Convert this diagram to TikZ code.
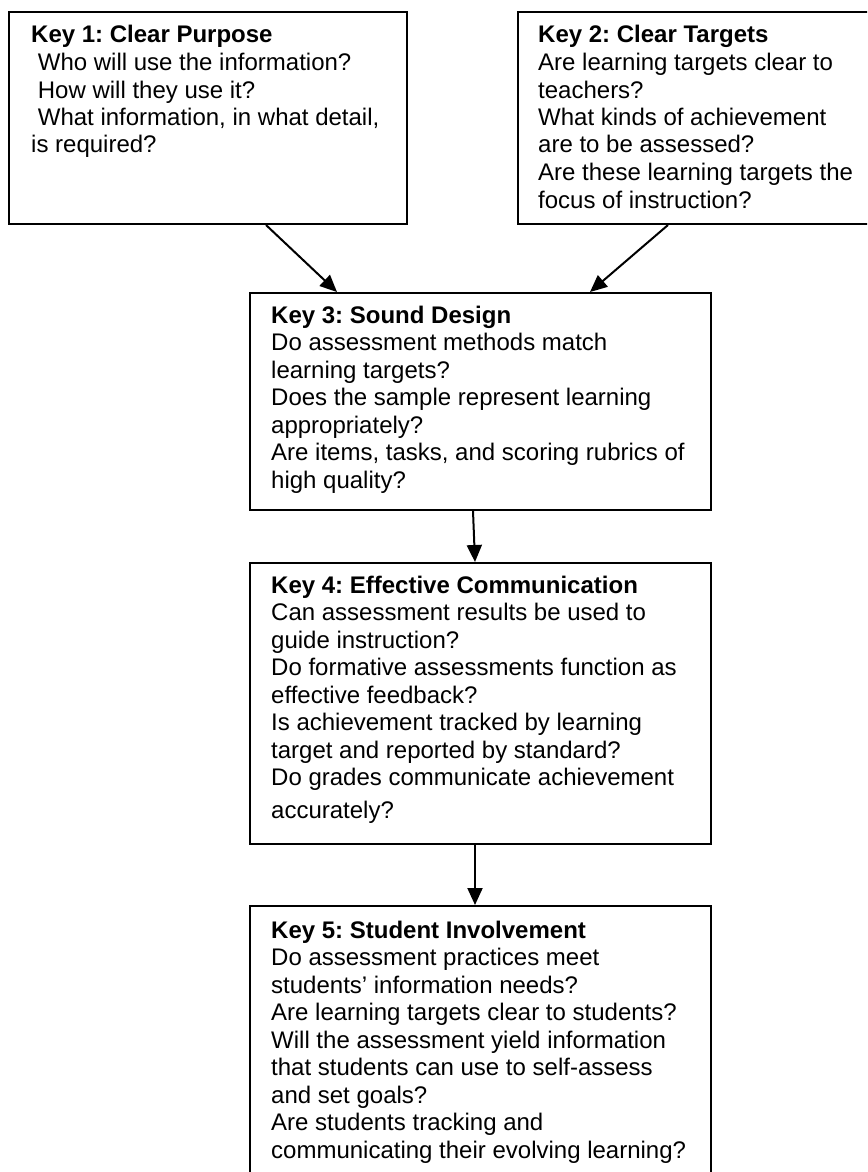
\documentclass[tikz,border=0pt]{standalone}
\usepackage{fontspec}
\setmainfont{Liberation Sans}
\usetikzlibrary{arrows.meta}
\frenchspacing

\tikzset{
  keybox/.style={draw=black, line width=2pt, fill=white, rectangle,
                 anchor=north west, inner sep=0pt},
  keytext/.style={anchor=base west, inner sep=0pt, text=black},
  flow/.style={draw=black, line width=2pt,
               -{Triangle[length=17pt,width=15pt]}},
}
\newcommand{\keylines}[1]{%
  \begin{minipage}[t]{520pt}\raggedright\frenchspacing
  \fontsize{24pt}{27.5pt}\selectfont #1\end{minipage}}

\begin{document}
\begin{tikzpicture}[x=1pt,y=1pt]
  \useasboundingbox (0,0) rectangle (867,-1172);
  \fill[white] (0,0) rectangle (867,-1172);
  \clip (0,0) rectangle (867,-1172);

  % the five keys
  \node[keybox, minimum width=398pt, minimum height=212pt] (k1) at (8,-11) {};
  \node[keybox, minimum width=360pt, minimum height=212pt] (k2) at (517,-11) {};
  \node[keybox, minimum width=461pt, minimum height=217pt] (k3) at (249,-292) {};
  \node[keybox, minimum width=461pt, minimum height=281pt] (k4) at (249,-562) {};
  \node[keybox, minimum width=461pt, minimum height=300pt] (k5) at (249,-905) {};

  % their texts
  \node[keytext] (t1) at ([xshift=23pt,yshift=-32pt]k1.north west) {\keylines{%
    \textbf{Key 1: Clear Purpose}\\
    \mbox{}\ Who will use the information?\\
    \mbox{}\ How will they use it?\\
    \mbox{}\ What information, in what detail,\\
    is required?}};
  \node[keytext] (t2) at ([xshift=21pt,yshift=-32pt]k2.north west) {\keylines{%
    \textbf{Key 2: Clear Targets}\\
    Are learning targets clear to\\
    teachers?\\
    What kinds of achievement\\
    are to be assessed?\\
    Are these learning targets the\\
    focus of instruction?}};
  \node[keytext] (t3) at ([xshift=22pt,yshift=-31pt]k3.north west) {\keylines{%
    \textbf{Key 3: Sound Design}\\
    Do assessment methods match\\
    learning targets?\\
    Does the sample represent learning\\
    appropriately?\\
    Are items, tasks, and scoring rubrics of\\
    high quality?}};
  \node[keytext] (t4) at ([xshift=22pt,yshift=-31pt]k4.north west) {\keylines{%
    \textbf{Key 4: Effective Communication}\\
    Can assessment results be used to\\
    guide instruction?\\
    Do formative assessments function as\\
    effective feedback?\\
    Is achievement tracked by learning\\
    target and reported by standard?\\
    Do grades communicate achievement\\[5.5pt]
    accurately?}};
  \node[keytext] (t5) at ([xshift=22pt,yshift=-33pt]k5.north west) {\keylines{%
    \textbf{Key 5: Student Involvement}\\
    Do assessment practices meet\\
    students’ information needs?\\
    Are learning targets clear to students?\\
    Will the assessment yield information\\
    that students can use to self-assess\\
    and set goals?\\
    Are students tracking and\\
    communicating their evolving learning?}};

  % connectors
  \draw[flow] ([xshift=258pt]k1.south west) -- ([xshift=88pt]k3.north west);
  \draw[flow] ([xshift=151pt]k2.south west) -- ([xshift=341pt]k3.north west);
  \draw[flow] ([xshift=224pt]k3.south west) -- ([xshift=226pt]k4.north west);
  \draw[flow] ([xshift=226pt]k4.south west) -- ([xshift=226pt]k5.north west);
\end{tikzpicture}
\end{document}
